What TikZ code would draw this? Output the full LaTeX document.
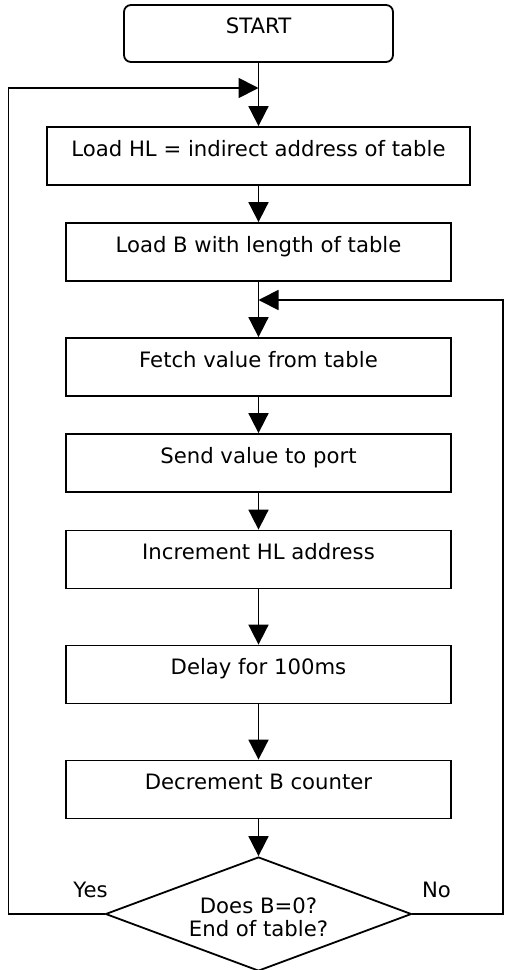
\documentclass[tikz,border=0pt]{standalone}
\usepackage{fontspec}
\setmainfont{DejaVu Sans}
\usetikzlibrary{arrows.meta,shapes.geometric}
\begin{document}
\begin{tikzpicture}[x=1pt,y=-1pt,
  line width=1.8pt,
  every node/.style={font=\fontsize{21.2}{23}\selectfont},
  procbox/.style={draw,rectangle,inner sep=0pt,text height=0pt,text depth=0pt,minimum height=58pt},
  wideproc/.style={procbox,minimum width=385pt},
  arr/.style={-{Triangle[length=20pt,width=20pt]}},
  lbl/.style={anchor=base,inner sep=0pt}]
\useasboundingbox (0,0) rectangle (504,970);
\node[procbox,rounded corners=7pt,minimum width=269pt,minimum height=57pt] (start) at (258.5,33.5) {START};
\node[procbox,minimum width=423pt] (b1) at (258.5,156) {Load HL = indirect address of table};
\node[wideproc] (b2) at (258.5,252) {Load B with length of table};
\node[wideproc] (b3) at (258.5,367) {Fetch value from table};
\node[wideproc] (b4) at (258.5,463) {Send value to port};
\node[wideproc] (b5) at (258.5,559.5) {Increment HL address};
\node[wideproc] (b6) at (258.5,674.5) {Delay for 100ms};
\node[wideproc] (b7) at (258.5,789.5) {Decrement B counter};
\node[draw,diamond,aspect=2.684,minimum width=306pt,minimum height=114pt,inner sep=0pt] (dec) at (258.5,914) {};
\node[lbl] (dt1) at (258.5,913) {Does B=0?};
\node[lbl] (dt2) at (258.5,936) {End of table?};
\node[lbl] (yes) at (90.5,897) {Yes};
\node[lbl] (no) at (436.5,897) {No};
\coordinate (jL) at (258.5,88);
\coordinate (lft) at (8.5,88);
\coordinate (jR) at (258.5,300);
\coordinate (rgt) at (503,300);
\draw[arr] (start.south) -- (b1.north);
\draw[arr] (b1.south) -- (b2.north);
\draw[arr] (b2.south) -- (b3.north);
\draw[arr] (b3.south) -- (b4.north);
\draw[arr] (b4.south) -- (b5.north);
\draw[arr] (b5.south) -- (b6.north);
\draw[arr] (b6.south) -- (b7.north);
\draw[arr] (b7.south) -- (dec.north);
\draw[arr] (dec.west) -| (lft) -- (jL);
\draw[arr] (dec.east) -| (rgt) -- (jR);
\end{tikzpicture}
\end{document}
